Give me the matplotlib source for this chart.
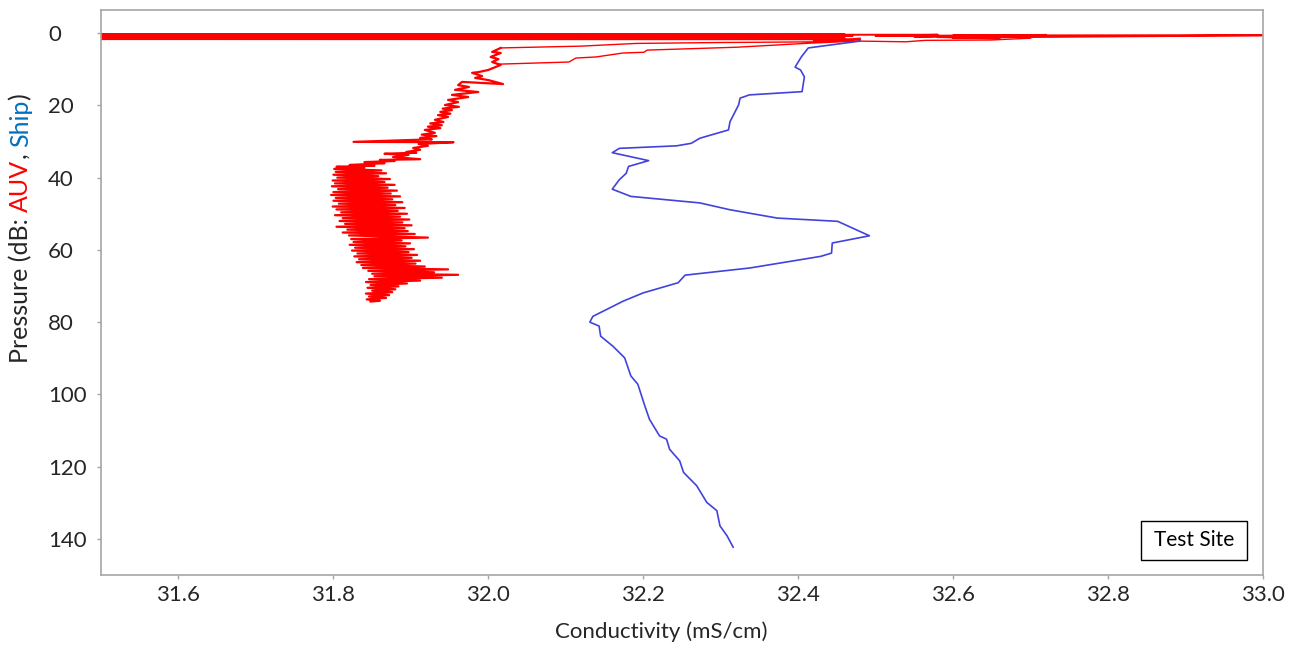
import matplotlib
matplotlib.use("Agg")
import matplotlib.pyplot as plt
from matplotlib.patches import Rectangle

plt.rcParams["font.family"] = ["Lato", "DejaVu Sans"]

# Ship CTD cast (conductivity mS/cm, pressure dB)
ship_c = [32.480, 32.413, 32.404, 32.396, 32.403, 32.408, 32.405, 32.337, 32.325,
          32.323, 32.312, 32.310, 32.273, 32.262, 32.243, 32.169, 32.160, 32.207,
          32.181, 32.178, 32.169, 32.160, 32.184, 32.273, 32.312, 32.373, 32.451,
          32.492, 32.444, 32.443, 32.429, 32.338, 32.254, 32.245, 32.200, 32.174,
          32.135, 32.131, 32.143, 32.145, 32.161, 32.176, 32.184, 32.193, 32.202,
          32.208, 32.221, 32.230, 32.234, 32.247, 32.252, 32.269, 32.282, 32.295,
          32.299, 32.308, 32.316]
ship_p = [2.2, 4.1, 6.6, 9.4, 10.2, 12.1, 16.2, 17.1, 18.0,
          19.9, 24.5, 26.8, 29.1, 30.5, 31.2, 31.9, 33.1, 35.3,
          36.9, 38.8, 40.6, 43.2, 45.2, 47.0, 48.9, 51.2, 52.1,
          56.1, 58.1, 60.9, 61.8, 65.0, 67.0, 69.1, 71.9, 74.2,
          78.4, 80.0, 81.1, 83.9, 86.7, 89.9, 94.9, 97.2, 103.2,
          106.9, 111.5, 112.4, 115.2, 118.4, 121.6, 125.3, 129.9, 132.2,
          136.4, 139.1, 142.3]

# AUV at the surface (noisy band near 0 dB)
auv_surf_c = [31.45, 32.46, 31.45, 32.44, 31.45, 32.47, 31.45, 32.45, 31.45, 32.43,
              31.45, 32.46, 31.45, 32.42, 31.45, 32.41, 32.47, 32.42, 32.48, 32.40,
              31.45, 32.58, 32.50, 32.67, 32.55, 32.72, 32.60, 33.05, 32.62, 32.66,
              32.58, 32.68, 32.60]
auv_surf_p = [0.3, 0.35, 0.5, 0.55, 0.7, 0.75, 0.9, 0.95, 1.1, 1.15,
              1.3, 1.35, 1.5, 1.55, 1.65, 1.7, 1.9, 2.3, 1.8, 1.5,
              0.4, 0.45, 0.8, 0.6, 1.0, 0.5, 0.65, 0.55, 1.2, 1.5,
              1.1, 0.9, 1.3]

# AUV first dip and return to the surface
auv_dip_c = [32.480, 32.433, 32.300, 32.191, 32.120, 32.016, 32.005, 32.016, 32.003,
             32.013, 32.005, 32.012, 32.104, 32.113, 32.139, 32.174, 32.201, 32.205,
             32.321, 32.413, 32.477, 32.539, 32.564, 32.649, 32.700]
auv_dip_p = [1.4, 2.4, 2.6, 2.85, 3.6, 4.1, 5.2, 5.5, 6.6,
             7.2, 8.0, 8.6, 8.0, 6.9, 6.6, 5.5, 5.3, 4.7,
             3.9, 2.8, 2.2, 2.4, 2.0, 1.9, 1.4]

# AUV main descent
auv_cast_c = [32.016, 32.005, 32.016, 32.003, 32.013, 32.005, 32.016, 32.009, 32.000,
              31.987, 31.979, 31.992, 31.983, 32.000, 32.019, 31.966, 31.961, 31.975,
              31.957, 31.987, 31.953, 31.974, 31.948, 31.961, 31.944, 31.962, 31.941,
              31.953, 31.938, 31.951, 31.935, 31.948, 31.931, 31.942, 31.925, 31.940,
              31.922, 31.938, 31.918, 31.931, 31.914, 31.933, 31.912, 31.927, 31.826,
              31.955, 31.910, 31.922, 31.903, 31.912, 31.894, 31.907, 31.866, 31.897,
              31.877, 31.912, 31.860, 31.879, 31.840, 31.866, 31.821, 31.853, 31.804,
              31.840,
              31.801, 31.862, 31.803, 31.868, 31.800, 31.858, 31.805, 31.873, 31.799,
              31.866, 31.802, 31.879, 31.798, 31.870, 31.806, 31.882, 31.800, 31.874,
              31.797, 31.886, 31.803, 31.876, 31.800, 31.889, 31.807, 31.880, 31.799,
              31.892, 31.804, 31.883, 31.810, 31.895, 31.802, 31.886, 31.812, 31.898,
              31.808, 31.889, 31.815, 31.901, 31.804, 31.892, 31.818, 31.896, 31.812,
              31.905, 31.820, 31.922, 31.823, 31.888, 31.826, 31.899, 31.821, 31.893,
              31.828, 31.904, 31.824, 31.897, 31.831, 31.908, 31.827, 31.901, 31.833,
              31.912, 31.830, 31.906, 31.836, 31.918, 31.838, 31.948, 31.845, 31.930,
              31.850, 31.961, 31.853, 31.940, 31.846, 31.912, 31.842, 31.895, 31.848,
              31.884, 31.844, 31.880, 31.850, 31.876, 31.842, 31.872, 31.846, 31.868,
              31.843, 31.860, 31.848]
auv_cast_p = [4.1, 5.2, 5.5, 6.6, 7.2, 8.0, 8.8, 9.4, 10.2,
              10.8, 11.0, 11.9, 12.4, 13.0, 14.1, 13.5, 14.4, 14.9,
              15.7, 16.3, 17.1, 17.7, 18.5, 19.1, 19.9, 20.4, 20.9,
              21.3, 21.8, 22.3, 22.7, 23.2, 24.0, 24.6, 25.0, 25.5,
              25.9, 26.3, 26.8, 27.6, 28.1, 28.5, 29.0, 29.4, 30.1,
              30.2, 30.7, 31.2, 31.8, 32.3, 32.9, 33.1, 33.4, 33.7,
              34.3, 34.9, 35.1, 35.4, 35.7, 36.0, 36.5, 36.7, 37.0,
              37.3,
              37.6, 38.0, 38.4, 38.8, 39.2, 39.6, 40.0, 40.4, 40.8,
              41.2, 41.6, 42.0, 42.4, 42.8, 43.2, 43.6, 44.0, 44.4,
              44.8, 45.2, 45.6, 46.0, 46.4, 46.8, 47.2, 47.6, 48.0,
              48.4, 48.8, 49.2, 49.6, 50.0, 50.4, 50.8, 51.2, 51.6,
              52.0, 52.4, 52.8, 53.2, 53.6, 54.0, 54.4, 54.8, 55.2,
              55.6, 56.0, 56.6, 57.0, 57.4, 57.8, 58.2, 58.6, 59.0,
              59.4, 59.8, 60.2, 60.6, 61.0, 61.4, 61.8, 62.2, 62.6,
              63.0, 63.4, 63.8, 64.2, 64.6, 65.0, 65.4, 65.8, 66.2,
              66.6, 66.9, 67.3, 67.7, 68.1, 68.5, 68.9, 69.3, 69.7,
              70.1, 70.5, 70.9, 71.3, 71.7, 72.1, 72.5, 72.9, 73.3,
              73.7, 74.1, 74.3]

x_ticks = [31.6, 31.8, 32.0, 32.2, 32.4, 32.6, 32.8, 33.0]
y_ticks = [0, 20, 40, 60, 80, 100, 120, 140]

W, H = 1289, 645
fig = plt.figure(figsize=(W / 100, H / 100), dpi=100)
ax = fig.add_axes([101 / W, 1 - 575 / H, (1263 - 101) / W, (575 - 10) / H])

red = "#ff0000"
ax.plot(auv_surf_c, auv_surf_p, color=red, lw=1.4)
ax.plot(auv_dip_c, auv_dip_p, color=red, lw=1.0)
ax.plot(auv_cast_c, auv_cast_p, color=red, lw=1.6)
ax.plot(ship_c, ship_p, color="#4242dc", lw=1.2)

ax.set_xlim(31.5, 33.0)
ax.set_ylim(150, -6.4)
ax.set_xticks(x_ticks)
ax.set_xticklabels([f"{v:.1f}" for v in x_ticks])
ax.set_yticks(y_ticks)

for s in ax.spines.values():
    s.set_color("#a6a6a6")
    s.set_linewidth(1.2)
ax.tick_params(axis="both", direction="out", length=3, width=1,
               color="#a6a6a6", labelsize=16, labelcolor="#262626")
ax.tick_params(axis="x", pad=4)
ax.tick_params(axis="y", pad=35)
for lab in ax.get_yticklabels():
    lab.set_horizontalalignment("left")

# site label box
ax.add_patch(Rectangle((0.8948, 0.0265), 0.0914, 0.0696, transform=ax.transAxes,
                       fill=False, edgecolor="black", lw=1.0))
ax.text(0.8948 + 0.0457, 0.0265 + 0.0348, "Test Site", transform=ax.transAxes,
        ha="center", va="center", fontsize=15, color="black")

fig.text(661 / W, 1 - 632 / H, "Conductivity (mS/cm)", ha="center", va="center",
         fontsize=16, color="#262626")

# multi-coloured y label, built piece by piece
pieces = [("Pressure (dB: ", "#262626"), ("AUV", red), (", ", "#262626"),
          ("Ship", "#0070c0"), (")", "#262626")]
fig.canvas.draw()
renderer = fig.canvas.get_renderer()
texts = []
for s, c in pieces:
    t = fig.text(0, 0, s, rotation=90, rotation_mode="anchor", ha="left",
                 va="baseline", fontsize=18, color=c)
    texts.append(t)
heights = [t.get_window_extent(renderer).height for t in texts]
total = sum(heights)
y0 = (H - 228) - total / 2
for t, h in zip(texts, heights):
    t.set_position((28 / W, y0 / H))
    y0 += h

fig.savefig("out.png", dpi=100)
